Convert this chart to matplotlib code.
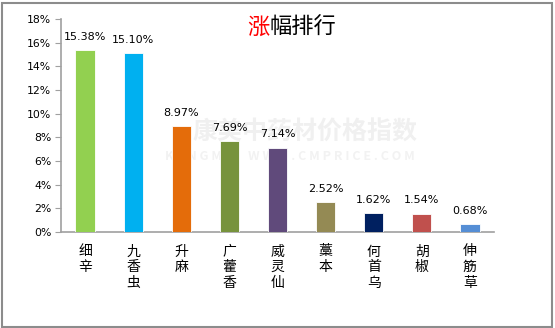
import matplotlib
matplotlib.use("Agg")
import matplotlib.pyplot as plt
from matplotlib.patches import Rectangle
from matplotlib.ticker import FuncFormatter, MultipleLocator

plt.rcParams['font.family'] = ['Noto Sans CJK SC', 'DejaVu Sans']

categories = ["细辛", "九香虫", "升麻", "广藿香", "威灵仙", "藁本", "何首乌", "胡椒", "伸筋草"]
values = [15.38, 15.10, 8.97, 7.69, 7.14, 2.52, 1.62, 1.54, 0.68]
colors = ["#92D050", "#00B0F0", "#E46C0A", "#77933C", "#604A7B",
          "#948A54", "#002060", "#C0504D", "#558ED5"]

fig = plt.figure(figsize=(5.55, 3.28), dpi=100)
W, H = 555, 328
ax = fig.add_axes([61 / W, 1 - 232 / H, 433 / W, 213 / H])

x = list(range(len(categories)))
ax.bar(x, values, width=0.4, color=colors, edgecolor="white", linewidth=0.6, zorder=3)
for xi, v in zip(x, values):
    ax.text(xi, v + 0.7, f"{v:.2f}%", ha="center", va="bottom", fontsize=8,
            family="DejaVu Sans", color="black", zorder=4)

ax.set_xlim(-0.5, len(categories) - 0.5)
ax.set_ylim(0, 18)
ax.yaxis.set_major_locator(MultipleLocator(2))
ax.yaxis.set_major_formatter(FuncFormatter(lambda v, p: f"{v:.0f}%"))
ax.set_xticks(x)
ax.set_xticklabels(["\n".join(c) for c in categories], fontsize=10, linespacing=1.15, va="top")
ax.tick_params(axis="x", length=0, pad=9)
ax.tick_params(axis="y", length=4, color="#A0A0A0", labelsize=7.8, pad=3)
for lab in ax.get_yticklabels():
    lab.set_family("DejaVu Sans")

for side in ("top", "right"):
    ax.spines[side].set_visible(False)
for side in ("left", "bottom"):
    ax.spines[side].set_color("#A0A0A0")
    ax.spines[side].set_linewidth(1.2)

# faint watermark behind the bars
fig.text(305 / W, 1 - 133 / H, "康美中药材价格指数", ha="center", va="center",
         fontsize=18, color="#F0F0F0", fontweight="bold", zorder=-1)
fig.text(290 / W, 1 - 156 / H, "K A N G M E I   W W W . C M P R I C E . C O M", ha="center",
         va="center", fontsize=9, color="#F2F2F2", fontweight="bold", zorder=-1)

# title with the first character in red
fig.text(270 / W, 1 - 27 / H, "涨", ha="right", va="center", fontsize=16, color="#FF0000")
fig.text(270 / W, 1 - 27 / H, "幅排行", ha="left", va="center", fontsize=16, color="black")

fig.patches.append(Rectangle((1.5 / W, 1.5 / H), 550 / W, 324 / H, transform=fig.transFigure,
                             fill=False, edgecolor="#8C8C8C", linewidth=1.5))
ax.set_facecolor("none")

fig.savefig("out.png", dpi=100)
